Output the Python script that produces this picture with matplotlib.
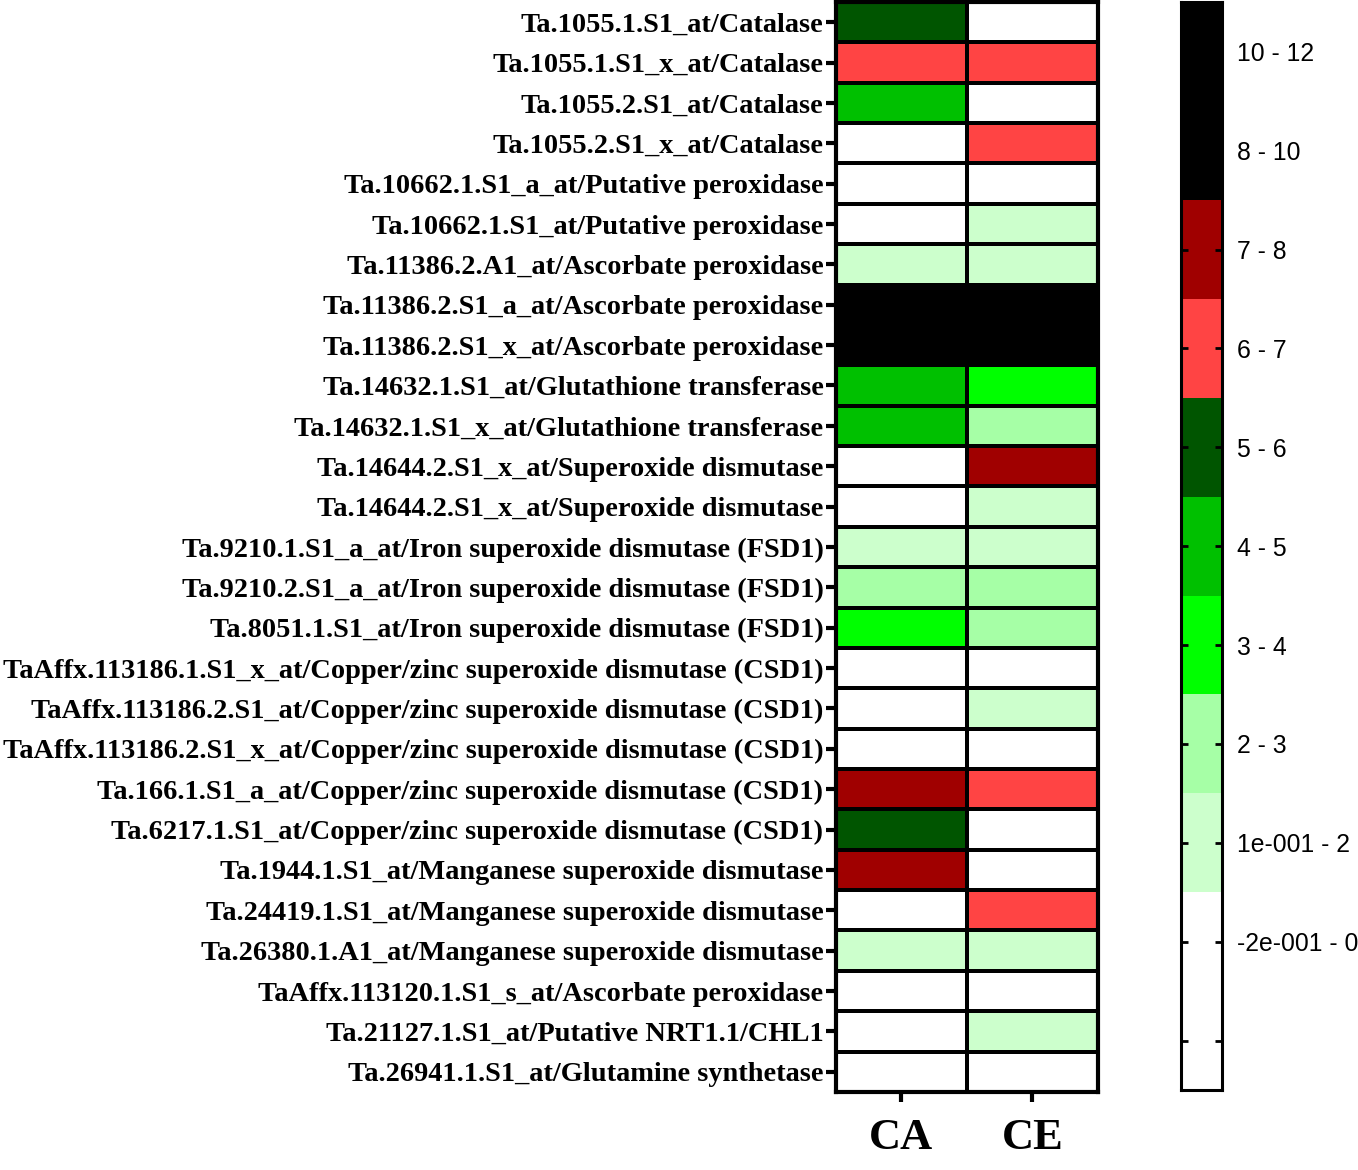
import matplotlib
matplotlib.use("Agg")
import matplotlib.pyplot as plt
import numpy as np
from matplotlib.colors import ListedColormap, BoundaryNorm

# probe set / gene names, top to bottom
genes = [
    "Ta.1055.1.S1_at/Catalase",
    "Ta.1055.1.S1_x_at/Catalase",
    "Ta.1055.2.S1_at/Catalase",
    "Ta.1055.2.S1_x_at/Catalase",
    "Ta.10662.1.S1_a_at/Putative peroxidase",
    "Ta.10662.1.S1_at/Putative peroxidase",
    "Ta.11386.2.A1_at/Ascorbate peroxidase",
    "Ta.11386.2.S1_a_at/Ascorbate peroxidase",
    "Ta.11386.2.S1_x_at/Ascorbate peroxidase",
    "Ta.14632.1.S1_at/Glutathione transferase",
    "Ta.14632.1.S1_x_at/Glutathione transferase",
    "Ta.14644.2.S1_x_at/Superoxide dismutase",
    "Ta.14644.2.S1_x_at/Superoxide dismutase",
    "Ta.9210.1.S1_a_at/Iron superoxide dismutase (FSD1)",
    "Ta.9210.2.S1_a_at/Iron superoxide dismutase (FSD1)",
    "Ta.8051.1.S1_at/Iron superoxide dismutase (FSD1)",
    "TaAffx.113186.1.S1_x_at/Copper/zinc superoxide dismutase (CSD1)",
    "TaAffx.113186.2.S1_at/Copper/zinc superoxide dismutase (CSD1)",
    "TaAffx.113186.2.S1_x_at/Copper/zinc superoxide dismutase (CSD1)",
    "Ta.166.1.S1_a_at/Copper/zinc superoxide dismutase (CSD1)",
    "Ta.6217.1.S1_at/Copper/zinc superoxide dismutase (CSD1)",
    "Ta.1944.1.S1_at/Manganese superoxide dismutase",
    "Ta.24419.1.S1_at/Manganese superoxide dismutase",
    "Ta.26380.1.A1_at/Manganese superoxide dismutase",
    "TaAffx.113120.1.S1_s_at/Ascorbate peroxidase",
    "Ta.21127.1.S1_at/Putative NRT1.1/CHL1",
    "Ta.26941.1.S1_at/Glutamine synthetase",
]
conditions = ["CA", "CE"]

# values estimated from the colour bins
ca = [5.5, 6.5, 4.5, 0.0, 0.0, 0.0, 1.5, 9.0, 9.0, 4.5, 4.5, 0.0, 0.0, 1.5,
      2.5, 3.5, 0.0, 0.0, 0.0, 7.5, 5.5, 7.5, 0.0, 1.5, 0.0, 0.0, 0.0]
ce = [0.0, 6.5, 0.0, 6.5, 0.0, 1.5, 1.5, 9.0, 9.0, 3.5, 2.5, 7.5, 1.5, 1.5,
      2.5, 2.5, 0.0, 1.5, 0.0, 6.5, 0.0, 0.0, 6.5, 1.5, 0.0, 1.5, 0.0]

# colour bins
bin_edges = [-0.2, 0.1, 2, 3, 4, 5, 6, 7, 8, 10, 12]
bin_colors = ["#FFFFFF", "#CCFFCC", "#A6FFA6", "#00FF00", "#00C000",
              "#005500", "#FF4444", "#A00000", "#000000", "#000000"]
bin_labels = ["-2e-001 - 0", "1e-001 - 2", "2 - 3", "3 - 4", "4 - 5",
              "5 - 6", "6 - 7", "7 - 8", "8 - 10", "10 - 12"]

cmap = ListedColormap(bin_colors)
norm = BoundaryNorm(bin_edges, cmap.N)

fig = plt.figure(figsize=(13.58, 11.70), dpi=100)
ax = fig.add_axes([0.6156, 0.0667, 0.1929, 0.9316])

data = np.column_stack([ca, ce])
ax.pcolormesh(data, cmap=cmap, norm=norm, edgecolors="black", linewidth=2.6)
ax.set_xlim(0, 2)
ax.set_ylim(len(genes), 0)
ax.set_yticks(np.arange(len(genes)) + 0.5)
ax.set_yticklabels(genes, family="Liberation Serif", fontweight="bold", fontsize=20.4)
ax.set_xticks([0.5, 1.5])
ax.set_xticklabels(conditions, family="Liberation Serif", fontweight="bold", fontsize=32)
ax.tick_params(axis="y", length=7, width=3, pad=2)
ax.tick_params(axis="x", length=7, width=3, pad=12)
for sp in ax.spines.values():
    sp.set_linewidth(3)

# colourbar as its own axes: one equal-height block per bin, plus an unlabeled white block at the bottom
cax = fig.add_axes([0.8697, 0.0684, 0.0302, 0.9296])
bar_colors = ["#FFFFFF"] + bin_colors
bar_labels = [""] + bin_labels
n = len(bar_colors)
cax.pcolormesh(np.arange(n).reshape(-1, 1), cmap=ListedColormap(bar_colors),
               vmin=-0.5, vmax=n - 0.5)
cax.set_xlim(0, 1)
cax.set_ylim(0, n)
cax.set_xticks([])
cax.set_yticks(np.arange(n) + 0.5)
cax.set_yticklabels(bar_labels, family="Liberation Sans", fontsize=17.8)
cax.yaxis.tick_right()
cax.tick_params(axis="y", direction="in", length=5, width=2, left=True, right=True, pad=11)
for sp in cax.spines.values():
    sp.set_linewidth(2.2)

fig.savefig("out.png", dpi=100)
